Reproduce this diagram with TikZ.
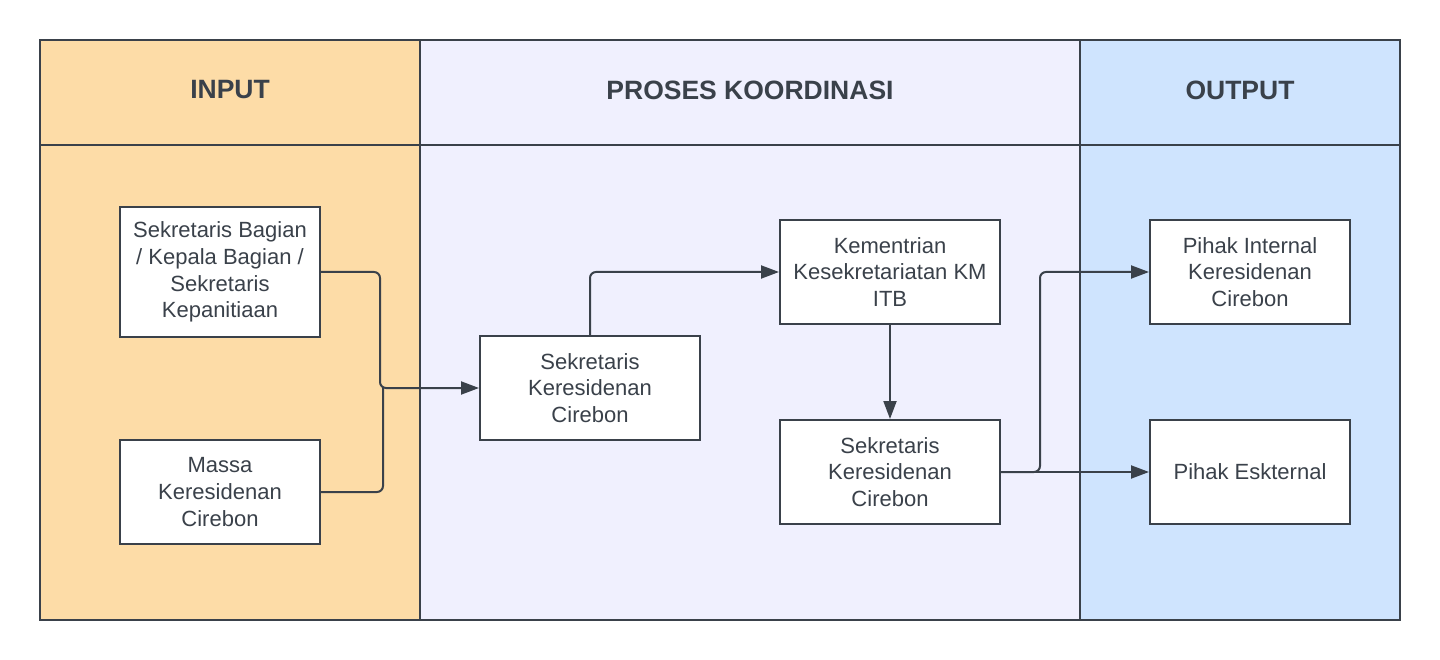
\documentclass[tikz,border=0pt]{standalone}
\usepackage{fontspec}
\setmainfont{Liberation Sans}
\usetikzlibrary{arrows.meta}
\definecolor{inbg}{HTML}{FDDCA7}
\definecolor{prbg}{HTML}{F0F0FE}
\definecolor{outbg}{HTML}{CFE4FE}
\definecolor{ink}{HTML}{3A414A}
\tikzset{
  box/.style={draw=ink, line width=2pt, fill=white, minimum width=200pt, minimum height=104pt, align=center, text=ink, font=\fontsize{22}{26.7}\selectfont, inner sep=0pt},
  widebox/.style={box, minimum width=220pt},
  conn/.style={draw=ink, line width=2pt, rounded corners=6pt},
  arr/.style={conn, -{Triangle[length=18pt,width=13pt]}},
  head/.style={text=ink, font=\fontsize{26.5}{30}\selectfont\bfseries},
  frame/.style={draw=ink, line width=1.5pt}
}
\begin{document}
\begin{tikzpicture}[x=1pt,y=-1pt]
\useasboundingbox (0,0) rectangle (1440,660);
% lanes
\fill[inbg] (40,40) rectangle (420,620);
\fill[prbg] (420,40) rectangle (1080,620);
\fill[outbg] (1080,40) rectangle (1400,620);
\draw[frame] (40,40) rectangle (1400,620);
\draw[frame] (420,40) -- (420,620);
\draw[frame] (1080,40) -- (1080,620);
\draw[frame] (40,145) -- (1400,145);
\node[head] (h1) at (230,90) {INPUT};
\node[head] (h2) at (750,90) {PROSES KOORDINASI};
\node[head] (h3) at (1240,90) {OUTPUT};
% boxes
\node[box, minimum height=130pt] (A) at (220,272) {Sekretaris Bagian\\/ Kepala Bagian /\\Sekretaris\\Kepanitiaan};
\node[box] (B) at (220,492) {Massa\\Keresidenan\\Cirebon};
\node[widebox] (C) at (590,388) {Sekretaris\\Keresidenan\\Cirebon};
\node[widebox] (D) at (890,272) {Kementrian\\Kesekretariatan KM\\ITB};
\node[widebox] (E) at (890,472) {Sekretaris\\Keresidenan\\Cirebon};
\node[box] (F) at (1250,272) {Pihak Internal\\Keresidenan\\Cirebon};
\node[box] (G) at (1250,472) {Pihak Eskternal};
% junctions
\coordinate (j1) at (380,388);
\coordinate (j2) at (383,388);
\coordinate (j3) at (1040,472);
% connectors
\draw[arr] (A.east) -| (j1) -- (C.west);
\draw[conn] (B.east) -| (j2);
\draw[arr] (C.north) |- (D.west);
\draw[arr] (D.south) -- (E.north);
\draw[arr] (E.east) -- (j3) |- (F.west);
\draw[arr] (E.east) -- (G.west);
\end{tikzpicture}
\end{document}
